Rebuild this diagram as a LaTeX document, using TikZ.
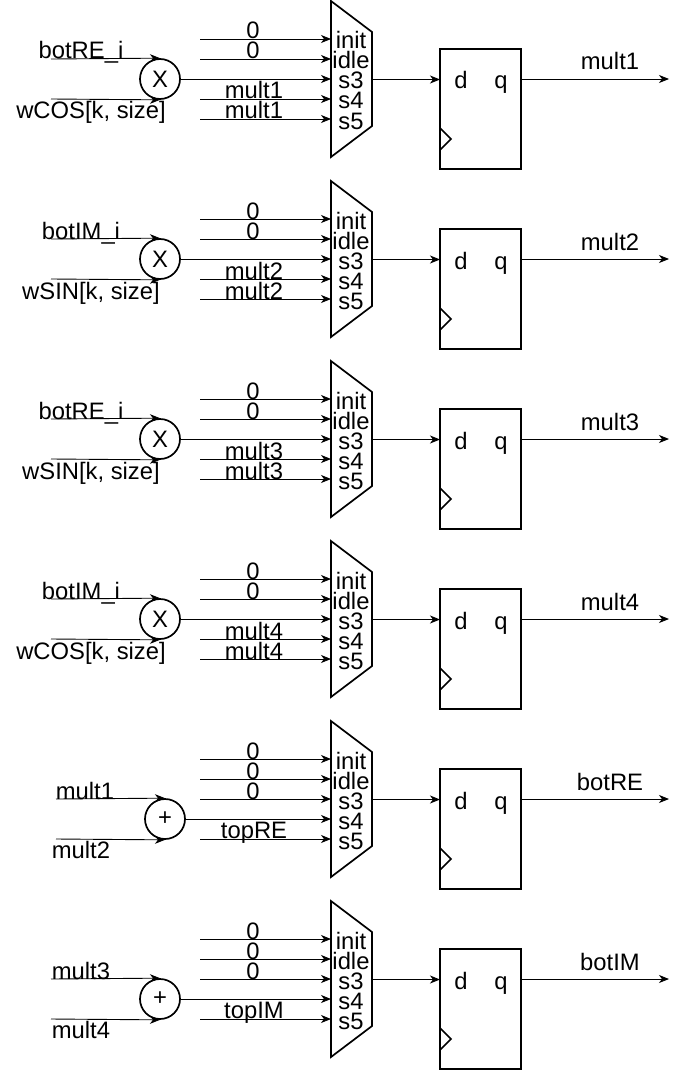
\documentclass[tikz,border=0pt]{standalone}
\usepackage{fontspec}
\setmainfont{Liberation Sans}
\usetikzlibrary{arrows.meta}
\tikzset{>={Stealth[length=10pt,width=8pt,inset=3pt]}}
\tikzset{wire/.style={->, line width=0.9pt}}
\tikzset{part/.style={draw, line width=1.7pt}}
\tikzset{lbl/.style={anchor=base, inner sep=0pt, font=\fontsize{23.8}{25}\selectfont}}
\tikzset{opnode/.style={part, circle, inner sep=0pt, minimum size=40pt, font=\fontsize{23.8}{25}\selectfont}}

\begin{document}
\begin{tikzpicture}[x=1pt, y=-1pt]
    \useasboundingbox (0, 0) rectangle (679, 1070);

    \foreach \n/\yy/\res in {1/0/mult1, 2/180/mult2, 3/360/mult3, 4/540/mult4, 5/720/botRE, 6/900/botIM} {
        \begin{scope}[shift={(0, \yy)}]
            \draw[part, line join=miter] (331, 1) -- (372, 32) -- (372, 126) -- (331, 157) -- cycle;
            \foreach \k/\port in {1/init, 2/idle, 3/s3, 4/s4, 5/s5} {
                \coordinate (p\n-\k) at (331, 19 + 20 * \k);
                \node[lbl] (port\n-\k) at (351, 29 + 20 * \k) {\port};
            }
            \node[part, minimum width=81pt, minimum height=120pt, inner sep=0pt] (ff\n) at (480.5, 109) {};
            \draw[part] (440, 128) -- (451, 139) -- (440, 150);
            \node[lbl] (d\n) at (461, 89) {d};
            \node[lbl] (q\n) at (501, 89) {q};
            \coordinate (mo\n) at (372, 79.5);
            \coordinate (di\n) at (440, 79.5);
            \coordinate (qo\n) at (521, 79);
            \coordinate (out\n) at (669, 79);
            \draw[wire] (mo\n) -- (di\n);
            \draw[wire] (qo\n) -- (out\n);
            \node[lbl] (res\n) at (610, 70) {\res};
        \end{scope}
    }

    \foreach \n/\yy/\ta/\tb/\val in {1/0/botRE\_i/{wCOS[k, size]}/mult1, 2/180/botIM\_i/{wSIN[k, size]}/mult2, 3/360/botRE\_i/{wSIN[k, size]}/mult3, 4/540/botIM\_i/{wCOS[k, size]}/mult4} {
        \begin{scope}[shift={(0, \yy)}]
            \node[opnode] (op\n) at (160, 79) {X};
            \coordinate (a\n) at (51, 59);
            \coordinate (b\n) at (51, 99);
            \draw[wire] (a\n) -- (op\n.north);
            \draw[wire] (b\n) -- (op\n.south);
            \node[lbl] (ta\n) at (81, 59) {\ta};
            \node[lbl] (tb\n) at (91, 119) {\tb};
            \coordinate (s\n-1) at (200, 39);
            \coordinate (s\n-2) at (200, 59);
            \coordinate (s\n-4) at (200, 99);
            \coordinate (s\n-5) at (200, 119);
            \draw[wire] (s\n-1) -- (p\n-1);
            \draw[wire] (s\n-2) -- (p\n-2);
            \draw[wire] (op\n.east) -- (p\n-3);
            \draw[wire] (s\n-4) -- (p\n-4);
            \draw[wire] (s\n-5) -- (p\n-5);
            \node[lbl] (v\n-1) at (253, 39) {0};
            \node[lbl] (v\n-2) at (253, 59) {0};
            \node[lbl] (v\n-4) at (254, 99) {\val};
            \node[lbl] (v\n-5) at (254, 119) {\val};
        \end{scope}
    }

    \foreach \n/\yy/\cx/\sx/\ta/\tb/\tax/\tbx/\val in {5/720/165/56/mult1/mult2/85/81/topRE, 6/900/160/51/mult3/mult4/81/81/topIM} {
        \begin{scope}[shift={(0, \yy)}]
            \node[opnode] (op\n) at (\cx, 99) {+};
            \coordinate (a\n) at (\sx, 79);
            \coordinate (b\n) at (\sx, 119);
            \draw[wire] (a\n) -- (op\n.north);
            \draw[wire] (b\n) -- (op\n.south);
            \node[lbl] (ta\n) at (\tax, 79) {\ta};
            \node[lbl] (tb\n) at (\tbx, 138) {\tb};
            \coordinate (s\n-1) at (200, 39);
            \coordinate (s\n-2) at (200, 59);
            \coordinate (s\n-3) at (200, 79);
            \coordinate (s\n-5) at (200, 119);
            \draw[wire] (s\n-1) -- (p\n-1);
            \draw[wire] (s\n-2) -- (p\n-2);
            \draw[wire] (s\n-3) -- (p\n-3);
            \draw[wire] (op\n.east) -- (p\n-4);
            \draw[wire] (s\n-5) -- (p\n-5);
            \node[lbl] (v\n-1) at (253, 39) {0};
            \node[lbl] (v\n-2) at (253, 59) {0};
            \node[lbl] (v\n-3) at (253, 79) {0};
            \node[lbl] (v\n-5) at (254, 118) {\val};
        \end{scope}
    }
\end{tikzpicture}
\end{document}
